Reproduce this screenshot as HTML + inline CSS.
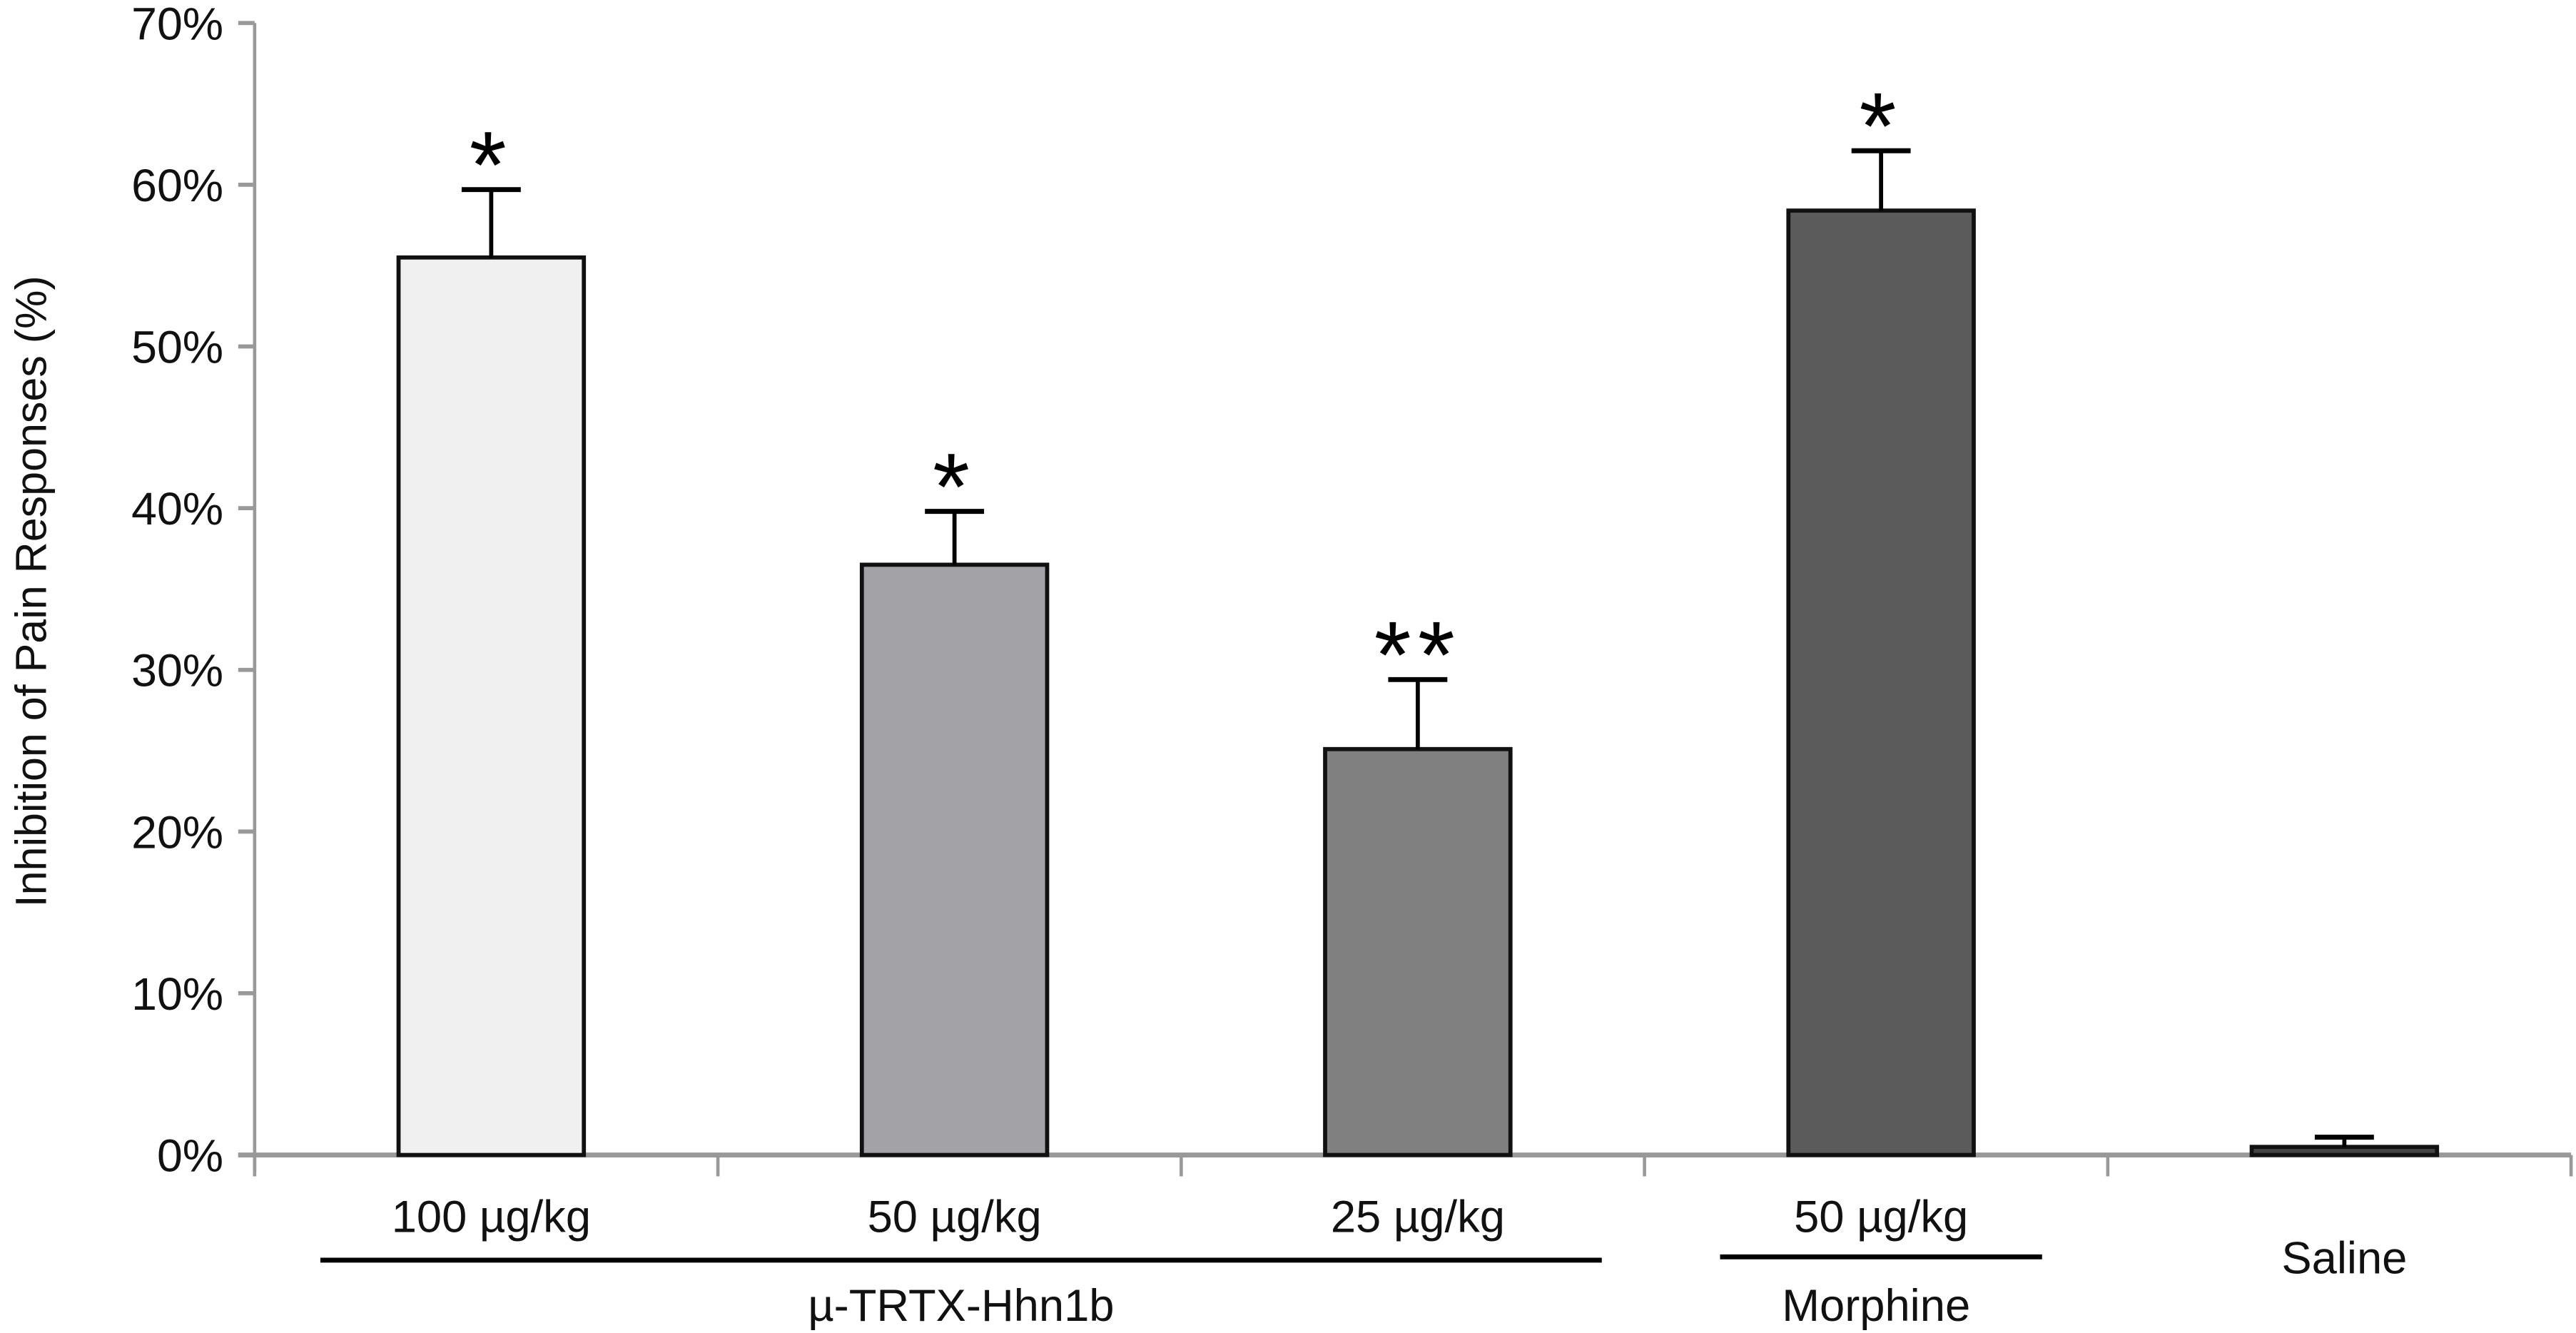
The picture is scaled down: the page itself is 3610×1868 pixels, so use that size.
<!DOCTYPE html>
<html><head><meta charset="utf-8"><style>
html,body{margin:0;padding:0;background:#fff;}
svg{display:block;font-family:"Liberation Sans",sans-serif;}
</style></head><body>
<svg id="chart" width="3610" height="1868" viewBox="0 0 1568 811.35" preserveAspectRatio="none" xmlns="http://www.w3.org/2000/svg">
<g id="g"></g>
</svg>
<script>
const categories = ["100 µg/kg","50 µg/kg","25 µg/kg","50 µg/kg","Saline"];
const values = [55.5, 36.5, 25.1, 58.4, 0.5];
const errors = [4.2, 3.3, 4.3, 3.7, 0.6];
const stars = ["*","*","**","*",""];
const fills = ["#f0f0f0","#a3a2a7","#808080","#5b5b5b","#444444"];
const yTicks = [0,10,20,30,40,50,60,70];
const yTickLabels = ["0%","10%","20%","30%","40%","50%","60%","70%"];

const NS="http://www.w3.org/2000/svg";
const g=document.getElementById('g');
const x0=155, x1=1565, yBase=703, yTop=14;
const bw=(x1-x0)/categories.length;
function y(v){return yBase-(v/70)*(yBase-yTop);}
function xc(i){return x0+bw*(i+0.5)+3;}
function mk(tag,attrs,txt){const e=document.createElementNS(NS,tag);for(const k in attrs)e.setAttribute(k,attrs[k]);if(txt!==undefined)e.textContent=txt;g.appendChild(e);return e;}

let ax=mk('line',{x1:x0,y1:yTop,x2:x0,y2:yBase+10,stroke:'#999',"stroke-width":2});


yTicks.forEach((t,i)=>{
  let tk=mk('line',{x1:x0-10,y1:y(t),x2:x0,y2:y(t),stroke:'#999',"stroke-width":2.5});
  
  
  let tl=mk('text',{x:136,y:y(t)+10,"text-anchor":"end","font-size":28,fill:'#111'},yTickLabels[i]);
  
  
});
let xa=mk('line',{x1:x0-10,y1:yBase,x2:x1,y2:yBase,stroke:'#999',"stroke-width":3});


for(let i=0;i<=categories.length;i++){
  let tk=mk('line',{x1:x0+bw*i,y1:yBase,x2:x0+bw*i,y2:yBase+13,stroke:'#999',"stroke-width":2});
  
  
}
const barW=bw*0.4;
values.forEach((v,i)=>{
  const cx=xc(i);
  let b=mk('rect',{x:cx-barW/2,y:y(v),width:barW,height:yBase-y(v),fill:fills[i],stroke:'#111',"stroke-width":2.5});
  
  
  const ey=y(v+errors[i]);
  let el=mk('line',{x1:cx,y1:y(v),x2:cx,y2:ey,stroke:'#000',"stroke-width":2.5});
  
  
  let ec=mk('line',{x1:cx-18,y1:ey,x2:cx+18,y2:ey,stroke:'#000',"stroke-width":3});
  
  
  if(stars[i]){
    let s=mk('text',{x:cx,y:ey+5,"text-anchor":"middle","font-size":58,fill:'#000',"letter-spacing":4},stars[i]);
    
    
  }
  let lbl=mk('text',{x:cx,y:i==4?775:750,"text-anchor":"middle","font-size":27.5,fill:'#111'},categories[i]);
  
  
});
let gl1=mk('line',{x1:195,y1:767,x2:975,y2:767,stroke:'#000',"stroke-width":3});


let gt1=mk('text',{x:585,y:804,"text-anchor":"middle","font-size":27.5,fill:'#111'},"µ-TRTX-Hhn1b");


let gl2=mk('line',{x1:1047,y1:765,x2:1243,y2:765,stroke:'#000',"stroke-width":3});


let gt2=mk('text',{x:1142,y:804,"text-anchor":"middle","font-size":27.5,fill:'#111'},"Morphine");


let yt=mk('text',{x:0,y:0,"text-anchor":"middle","font-size":26.5,fill:'#111',transform:'translate(28,360) rotate(-90)'},"Inhibition of Pain Responses (%)");


</script>
</body></html>
